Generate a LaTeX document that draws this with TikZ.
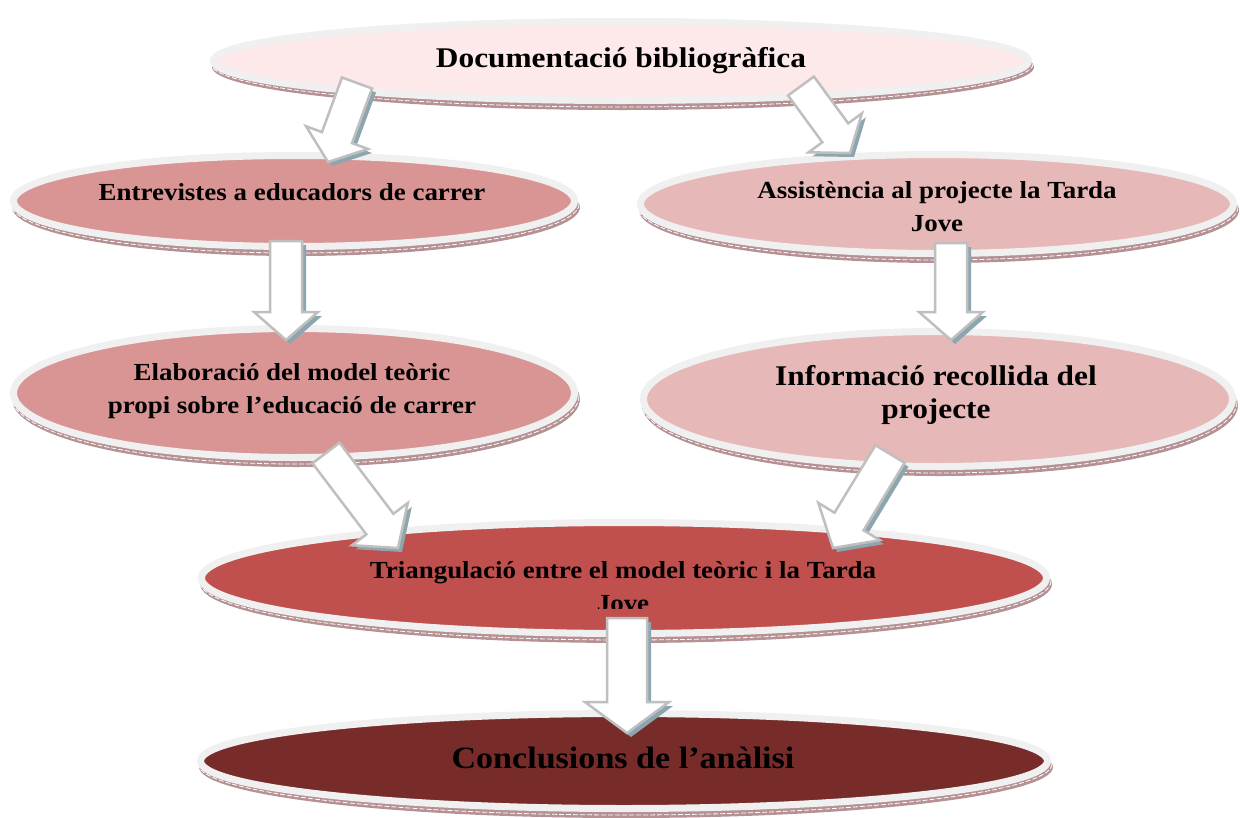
\documentclass[tikz,border=0pt]{standalone}
\usepackage{fontspec}
\setmainfont{Liberation Serif}[FakeStretch=1.1]
\usetikzlibrary{calc,shapes.geometric}
\definecolor{ringc}{HTML}{F0F0F0}
\definecolor{shadc}{HTML}{B59193}
\definecolor{fa}{HTML}{FDE9EA}
\definecolor{fb}{HTML}{D99594}
\definecolor{fc}{HTML}{E6B8B7}
\definecolor{fd}{HTML}{C0504D}
\definecolor{fe}{HTML}{772C2A}
\definecolor{agray}{HTML}{BFBFBF}
\definecolor{ashad}{HTML}{8CA6AF}
\tikzset{
  oval/.style={shape=ellipse, draw=ringc, line width=7pt, inner sep=0pt, outer sep=0pt},
  lbl/.style={text=black, inner sep=0pt, align=center},
  blockarrow/.style={fill=white, draw=agray, line width=2.5pt, line join=miter},
  blockshadow/.style={fill=ashad},
}
\newcommand\fsA{\fontsize{28.5}{34}\selectfont\bfseries}
\newcommand\fsB{\fontsize{24.5}{33}\selectfont\bfseries}
\newcommand\fsC{\fontsize{28.5}{33}\selectfont\bfseries}
\newcommand\fsD{\fontsize{31}{37}\selectfont\bfseries}
% name, x, y, rx, ry, fill
\newcommand\myoval[6]{%
  \fill[shadc] (#2+2,#3+6) ellipse [x radius=#4, y radius=#5];
  \draw[white, line width=0.8pt, dash pattern=on 5pt off 2pt] (#2+1,#3+3) ellipse [x radius=#4, y radius=#5];
  \node[oval, fill=#6, minimum width={2*(#4)-7}, minimum height={2*(#5)-7}] (#1) at (#2,#3) {};
}
% x1,y1 (tail centre), x2,y2 (tip), half body width, half head width, head length
\newcommand\blkarrow[7]{%
  \coordinate (sa) at (#1+4,#2+4);
  \coordinate (sb) at (#3+4,#4+4);
  \coordinate (sh) at ($(sb)!#7pt!(sa)$);
  \fill[blockshadow] ($(sa)!#5pt!90:(sb)$) -- ($(sh)!#5pt!90:(sb)$) -- ($(sh)!#6pt!90:(sb)$) -- (sb)
     -- ($(sh)!#6pt!-90:(sb)$) -- ($(sh)!#5pt!-90:(sb)$) -- ($(sa)!#5pt!-90:(sb)$) -- cycle;
  \coordinate (qa) at (#1,#2);
  \coordinate (qb) at (#3,#4);
  \coordinate (qh) at ($(qb)!#7pt!(qa)$);
  \draw[blockarrow] ($(qa)!#5pt!90:(qb)$) -- ($(qh)!#5pt!90:(qb)$) -- ($(qh)!#6pt!90:(qb)$) -- (qb)
     -- ($(qh)!#6pt!-90:(qb)$) -- ($(qh)!#5pt!-90:(qb)$) -- ($(qa)!#5pt!-90:(qb)$) -- cycle;
}
\begin{document}
\begin{tikzpicture}[x=1pt,y=-1pt]
\useasboundingbox (0,0) rectangle (1240,817);
\fill[white] (0,0) rectangle (1240,817);

% ellipses
\myoval{e1}{621}{61}{411}{43}{fa}
\myoval{e2}{294}{201}{284}{49}{fb}
\myoval{e3}{937}{204}{300}{53}{fc}
\myoval{e4}{294}{393}{284}{68}{fb}
\myoval{e5}{938}{399}{298}{71}{fc}
\myoval{e6}{624}{578}{426}{59}{fd}
\myoval{e7}{624}{761}{427}{51}{fe}

% texts (anchor base = baseline of the last line)
\node[lbl, font=\fsA, anchor=base] (t1) at (621,67) {Documentació bibliogràfica};
\node[lbl, font=\fsB, anchor=base] (t2) at (292,200) {Entrevistes a educadors de carrer};
\begin{scope}
  \clip (600,140) rectangle (1240,232);
  \node[lbl, font=\fsB, anchor=base] (t3) at (937,231) {Assistència al projecte la Tarda\\Jove};
\end{scope}
\node[lbl, font=\fsB, anchor=base] (t4) at (292,413) {Elaboració del model teòric\\propi sobre l’educació de carrer};
\node[lbl, font=\fsC, anchor=base] (t5) at (936,418) {Informació recollida del\\projecte};
\begin{scope}
  \clip (190,500) rectangle (1060,608);
  \node[lbl, font=\fsB, anchor=base] (t6) at (623,611) {Triangulació entre el model teòric i la Tarda\\Jove};
\end{scope}
\node[lbl, font=\fsD, anchor=base] (t7) at (623,768) {Conclusions de l’anàlisi};

% block arrows
\blkarrow{357}{83}{328}{162}{16}{33}{26}
\blkarrow{801}{86}{850}{153}{16}{33}{25}
\blkarrow{286}{241}{286}{340}{16}{32}{28}
\blkarrow{951}{243}{951}{340}{16}{32}{28}
\blkarrow{326}{453}{398}{548}{17}{35}{30}
\blkarrow{890}{454}{833}{548}{17}{36}{31}
\blkarrow{627}{618}{627}{733}{20}{42}{31}
\end{tikzpicture}
\end{document}
